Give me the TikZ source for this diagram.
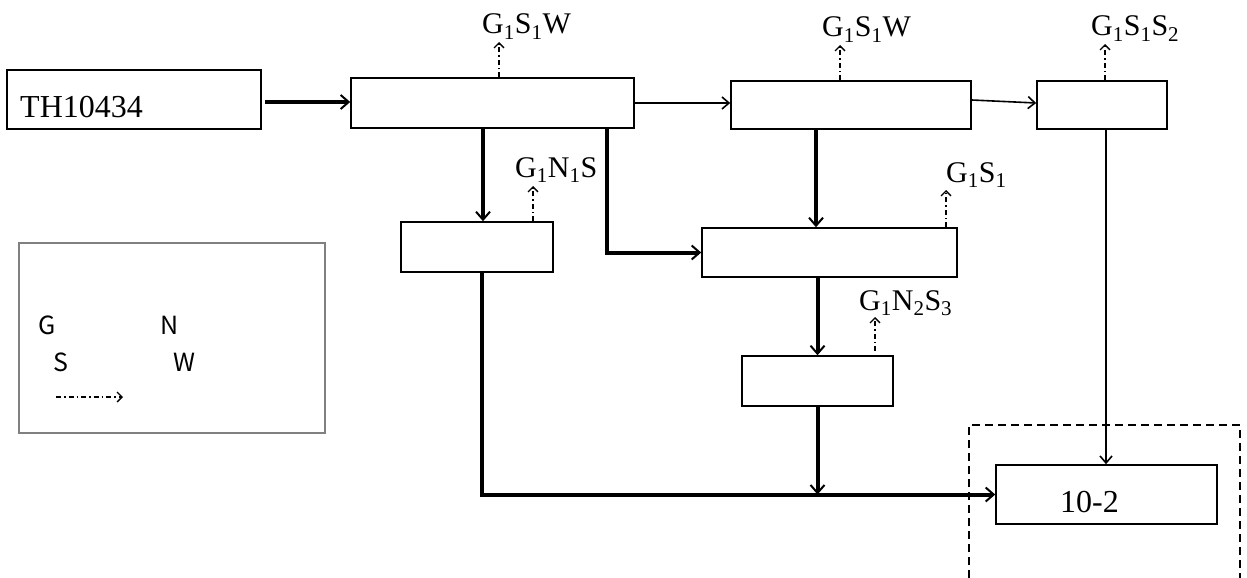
\documentclass[tikz,border=0pt]{standalone}
\usepackage{fontspec}
\setmainfont{Liberation Serif}
\newfontfamily\legfont{Noto Sans CJK SC}
\usetikzlibrary{arrows.meta,calc}
\newcommand\lsub[1]{\textsubscript{#1}}
\tikzset{
  box/.style={draw, line width=1.6pt, inner sep=0pt},
  thk/.style={line width=4pt, -{Straight Barb[length=8pt,width=14pt,line width=2pt]}},
  thn/.style={line width=1.6pt, -{Straight Barb[length=7pt,width=12pt,line width=1.6pt]}},
  emis/.style={line width=1.3pt, dash pattern=on 5pt off 3pt on 1.5pt off 3pt,
    -{Straight Barb[length=5pt,width=10pt,line width=1.3pt]}},
  lab/.style={font=\fontsize{30}{36}\selectfont, inner sep=0pt, anchor=base west},
  boxtxt/.style={font=\fontsize{32}{38}\selectfont, inner sep=0pt, anchor=base west},
  leg/.style={font=\legfont\fontsize{25}{30}\selectfont, inner sep=0pt, anchor=base west},
}
\begin{document}
\begin{tikzpicture}[x=1pt,y=-1pt]
\useasboundingbox (0,0) rectangle (1247,578);
% boxes
\node[box, minimum width=254pt, minimum height=59pt] (T) at (134,99.5) {};
\node[boxtxt] (Tt) at (20,117) {TH10434};
\node[box, minimum width=283pt, minimum height=50pt] (A) at (492.5,103) {};
\node[box, minimum width=240pt, minimum height=48pt] (B) at (851,105) {};
\node[box, minimum width=130pt, minimum height=48pt] (C) at (1102,105) {};
\node[box, minimum width=152pt, minimum height=50pt] (D) at (477,247) {};
\node[box, minimum width=255pt, minimum height=49pt] (E) at (829.5,252.5) {};
\node[box, minimum width=151pt, minimum height=50pt] (F) at (817.5,381) {};
\node[box, minimum width=221pt, minimum height=59pt] (G) at (1106.5,494.5) {};
\node[boxtxt] (Gt) at (1060,512) {10-2};
% dashed enclosure
\draw[line width=2pt, dash pattern=on 8pt off 5pt] (969,578) -- (969,425) -- (1240,425) -- (1240,578);
% x positions of connectors
\coordinate (xad) at (483,0);
\coordinate (xae) at (607,0);
\coordinate (xbe) at (816,0);
\coordinate (xc) at (1106,0);
\coordinate (xd) at (482,0);
% main flow
\draw[thk] ($(A.west -| T.east)+(3,-1)$) -- ($(A.west)+(0,-1)$);
\draw[thn] (A.east) -- (A.east -| B.west);
\draw[thn] ($(B.east)+(0,-5)$) -- ($(C.west)+(0,-2)$);
\draw[thk] (xad |- A.south) -- (xad |- D.north);
\draw[thk] (xae |- A.south) |- (E.west);
\draw[thk] (xbe |- B.south) -- (xbe |- E.north);
\draw[thk] (F.north |- E.south) -- (F.north);
\draw[thk] (xd |- D.south) |- (G.west);
\draw[thk] (F.south) -- (F.south |- G.west);
\draw[thn] (xc |- C.south) -- (xc |- G.north);
% emissions
\coordinate (ea) at (499,42);
\draw[emis] (ea |- A.north) -- (ea);
\node[lab] (LA) at (482,34) {G\lsub{1}S\lsub{1}W};
\coordinate (eb) at (840,45);
\draw[emis] (eb |- B.north) -- (eb);
\node[lab] (LB) at (822,37) {G\lsub{1}S\lsub{1}W};
\coordinate (ec) at (1105,44);
\draw[emis] (ec |- C.north) -- (ec);
\node[lab] (LC) at (1091,36) {G\lsub{1}S\lsub{1}S\lsub{2}};
\coordinate (ed) at (533,186);
\draw[emis] (ed |- D.north) -- (ed);
\node[lab] (LD) at (515,177) {G\lsub{1}N\lsub{1}S};
\coordinate (ee) at (946,190);
\draw[emis] (ee |- E.north) -- (ee);
\node[lab] (LE) at (946,182) {G\lsub{1}S\lsub{1}};
\coordinate (ef) at (875,317);
\draw[emis] ($(ef |- F.north)+(0,-4)$) -- (ef);
\node[lab] (LF) at (859,310) {G\lsub{1}N\lsub{2}S\lsub{3}};
% legend
\node[draw=gray, line width=2pt, minimum width=306pt, minimum height=190pt, inner sep=0pt] (L) at (172,338) {};
\node[leg] (lg) at (38,334) {G};
\node[leg] (ln) at (160,334) {N};
\node[leg] (ls) at (53,371) {S};
\node[leg] (lw) at (173,371) {W};
\coordinate (le1) at (56,397);
\coordinate (le2) at (123,397);
\draw[emis] (le1) -- (le2);
\end{tikzpicture}
\end{document}
